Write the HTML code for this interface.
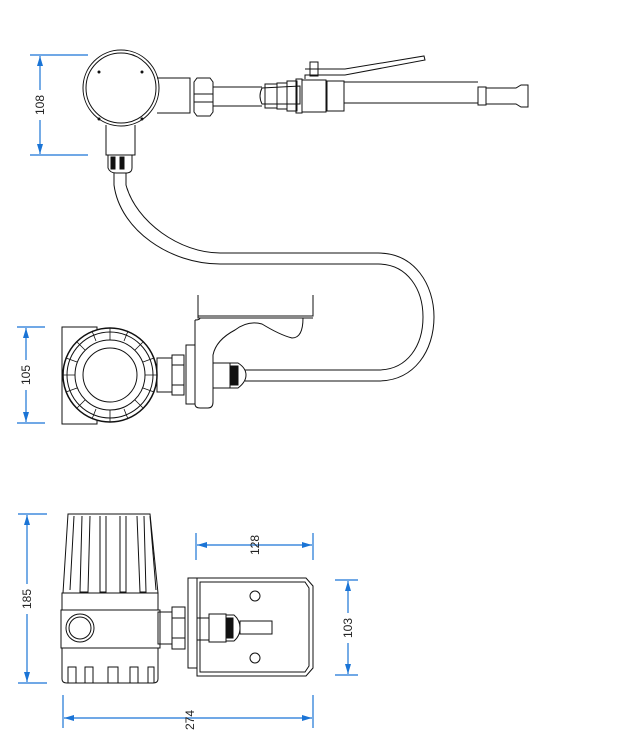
<!DOCTYPE html>
<html><head><meta charset="utf-8"><style>
html,body{margin:0;padding:0;background:#fff;}
svg{display:block;}
text{font-family:"Liberation Sans",sans-serif;font-size:12px;fill:#222;}
</style></head><body>
<svg width="617" height="742" viewBox="0 0 617 742" xmlns="http://www.w3.org/2000/svg">
<defs>
<marker id="ar" viewBox="0 0 10 6" refX="10" refY="3" markerWidth="10" markerHeight="6" orient="auto-start-reverse" markerUnits="userSpaceOnUse"><path d="M0,0 L10,3 L0,6 z" fill="#1a74d6"/></marker>
</defs>
<g fill="none" stroke="#1a74d6" stroke-width="1.2">
<line x1="30" y1="55" x2="88" y2="55"/><line x1="30" y1="155" x2="88" y2="155"/>
<line x1="40" y1="56" x2="40" y2="154" marker-start="url(#ar)" marker-end="url(#ar)"/>
<line x1="17" y1="327" x2="45" y2="327"/><line x1="17" y1="423" x2="45" y2="423"/>
<line x1="26" y1="328" x2="26" y2="422" marker-start="url(#ar)" marker-end="url(#ar)"/>
<line x1="18" y1="514" x2="47" y2="514"/><line x1="18" y1="683" x2="47" y2="683"/>
<line x1="27" y1="515" x2="27" y2="682" marker-start="url(#ar)" marker-end="url(#ar)"/>
<line x1="196" y1="533" x2="196" y2="560"/><line x1="313" y1="533" x2="313" y2="560"/>
<line x1="197" y1="545" x2="312" y2="545" marker-start="url(#ar)" marker-end="url(#ar)"/>
<line x1="335" y1="580" x2="358" y2="580"/><line x1="335" y1="675" x2="358" y2="675"/>
<line x1="348" y1="581" x2="348" y2="674" marker-start="url(#ar)" marker-end="url(#ar)"/>
<line x1="63" y1="695" x2="63" y2="728"/><line x1="313" y1="695" x2="313" y2="728"/>
<line x1="64" y1="718" x2="312" y2="718" marker-start="url(#ar)" marker-end="url(#ar)"/>
</g>
<g>
<rect x="33" y="90" width="14" height="30" fill="#fff"/>
<text transform="translate(44,105) rotate(-90)" text-anchor="middle">108</text>
<rect x="19" y="360" width="14" height="30" fill="#fff"/>
<text transform="translate(30,375) rotate(-90)" text-anchor="middle">105</text>
<rect x="20" y="584" width="14" height="30" fill="#fff"/>
<text transform="translate(31,599) rotate(-90)" text-anchor="middle">185</text>
<text transform="translate(259,545) rotate(-90)" text-anchor="middle">128</text>
<rect x="341" y="613" width="14" height="30" fill="#fff"/>
<text transform="translate(352,628) rotate(-90)" text-anchor="middle">103</text>
<text transform="translate(194,720) rotate(-90)" text-anchor="middle">274</text>
</g>
<g fill="none" stroke="#111" stroke-width="1">
<circle cx="121" cy="88" r="38" fill="#fff"/><circle cx="121" cy="88" r="35"/>
<circle cx="99" cy="72" r="1" fill="#111"/><circle cx="142" cy="72" r="1" fill="#111"/>
<circle cx="99" cy="119" r="1" fill="#111"/><circle cx="142" cy="119" r="1" fill="#111"/>
<path d="M158,78 H190 V113 H157"/><line x1="157" y1="78" x2="170" y2="78"/>
<path d="M106,125 V155 H135 V125"/>
<path d="M108,155 V168 Q110,173 116,173 H126 Q132,173 132,168 V155"/>
<rect x="111" y="157" width="4" height="12" fill="#111"/><rect x="120" y="157" width="4" height="12" fill="#111"/>
<path d="M194,82 L197,78 H210 L213,82 V112 L210,116 H197 L194,112 Z"/><line x1="194" y1="94" x2="213" y2="94"/><line x1="194" y1="102" x2="213" y2="102"/>
<path d="M213,87 H262 M213,106 H262"/>
<path d="M262,88 Q258,96 262,104 H300 V86 Z"/>
<rect x="265" y="84" width="12" height="24"/><rect x="277" y="83" width="10" height="26"/><rect x="287" y="81" width="10" height="30"/>
<rect x="296" y="79" width="6" height="34"/><rect x="302" y="80" width="24" height="32"/>
<rect x="327" y="81" width="17" height="30"/>
<path d="M344,82 H478 M344,103 H478"/>
<rect x="478" y="87" width="8" height="18"/>
<path d="M486,88 H516 L521,85 H528 V107 H521 L516,104 H486"/>
<rect x="310" y="62" width="8" height="14"/>
<path d="M305,79 V75 H345 L425,60 L424,56 L345,69 H305"/>
<!-- cable -->
<path d="M114,173 V185 C120,230 170,264 220,264 H378 C408,264 423,290 423,317 C423,345 408,370 378,370 H245"/>
<path d="M126,173 V185 C136,222 180,253 220,253 H378 C415,253 434,285 434,317 C434,350 415,381 378,381 H245"/>
<rect x="62" y="327" width="35" height="97"/>
<circle cx="110" cy="375" r="47" fill="#fff" stroke-width="1.5"/>
<circle cx="110" cy="375" r="43"/><circle cx="110" cy="375" r="35"/><circle cx="110" cy="375" r="27"/>
<g stroke-width="0.8">
<path d="M110,328 V340 M110,410 V422 M63,375 H75 M145,375 H157 M77,342 L85,350 M143,342 L135,350 M77,408 L85,400 M143,408 L135,400 M92,331 L96,341 M128,331 L124,341 M92,419 L96,409 M128,419 L124,409 M66,358 L77,362 M154,358 L143,362 M66,392 L77,388 M154,392 L143,388"/>
</g>
<rect x="157" y="358" width="15" height="34"/>
<rect x="172" y="355" width="12" height="40"/><line x1="172" y1="365" x2="184" y2="365"/><line x1="172" y1="385" x2="184" y2="385"/>
<rect x="186" y="345" width="9" height="59"/>
<path d="M195,320 V404 Q195,408 200,408 H208 Q213,408 213,402 V355 Q216,340 235,330 Q248,320 262,324 Q280,335 292,338 Q303,338 303,318"/>
<path d="M198,295 V316 H313 V295 M198,316 V318 H313"/>
<path d="M195,320 Q200,320 200,318"/>
<path d="M213,363 H230 V388 H213"/>
<path d="M230,363 H238 Q246,368 246,375 Q246,382 238,388 H230"/>
<rect x="231" y="366" width="7" height="19" fill="#111"/>
<path d="M68,514 H150 L158,593 H63 Z"/>
<path d="M74,516 L70,590 M82,516 L80,592 H88 L90,516 M100,516 V592 H106 V516 M120,516 V592 H126 V516 M137,516 L140,592 H146 L144,516 M150,516 L156,590"/>
<rect x="62" y="593" width="96" height="17"/>
<rect x="61" y="610" width="99" height="38"/>
<circle cx="80" cy="628" r="14"/><circle cx="80" cy="628" r="11"/>
<path d="M62,648 V679 Q62,683 67,683 H153 Q158,683 158,679 V648"/>
<path d="M68,683 V667 H76 V683 M85,683 V667 H93 V683 M108,683 V667 H118 V683 M130,683 V667 H138 V683 M148,683 V667 H154 V683"/>
<rect x="158" y="612" width="14" height="32"/>
<rect x="172" y="607" width="13" height="42"/><line x1="172" y1="618" x2="185" y2="618"/><line x1="172" y1="638" x2="185" y2="638"/>
<rect x="188" y="578" width="9" height="90"/>
<path d="M197,578 H306 L313,586 V668 L306,676 H197 Z"/>
<path d="M200,582 H305 L309,588 V666 L305,672 H200 Z"/>
<circle cx="255" cy="596" r="5"/><circle cx="255" cy="658" r="5"/>
<rect x="197" y="618" width="12" height="22"/>
<rect x="209" y="614" width="17" height="28"/>
<path d="M226,615 H234 Q240,620 240,628 Q240,636 234,641 H226 Z"/>
<rect x="227" y="618" width="6" height="20" fill="#111"/>
<rect x="240" y="621" width="32" height="13"/>
</g>
</svg>
</body></html>
